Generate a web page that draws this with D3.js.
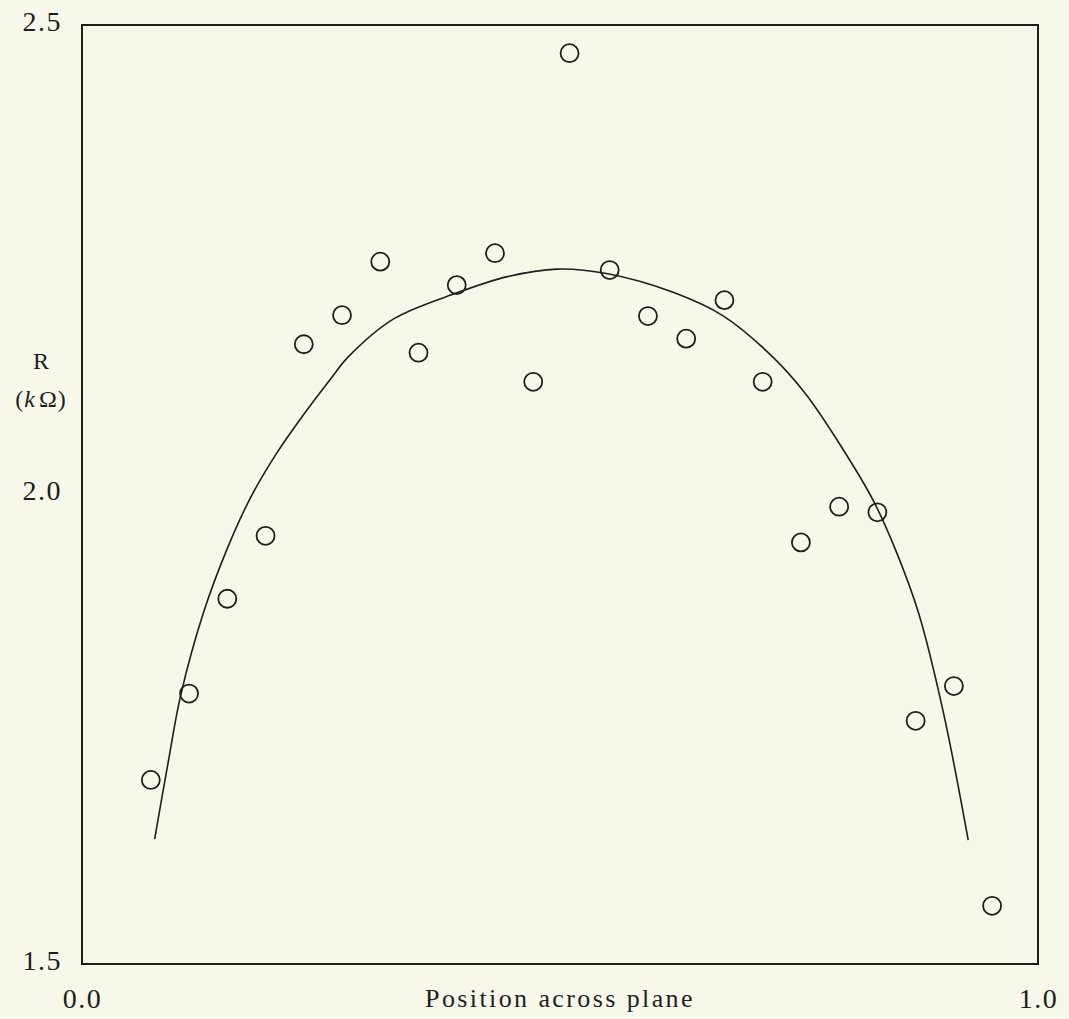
<!DOCTYPE html>
<html>
<head>
<meta charset="utf-8">
<script src="https://cdn.jsdelivr.net/npm/d3@7"></script>
<style>
  html, body { margin: 0; padding: 0; background: #f8f8ea; }
  svg { display: block; }
</style>
</head>
<body>
<svg id="chart" width="1069" height="1019"></svg>
<script>
// ---- data ----
const positions = [0.072, 0.112, 0.152, 0.192, 0.232, 0.272, 0.312, 0.352, 0.392, 0.432, 0.472, 0.510,
                   0.552, 0.592, 0.632, 0.672, 0.712, 0.752, 0.792, 0.832, 0.872, 0.912, 0.952];
const resistance = [1.696, 1.788, 1.889, 1.956, 2.160, 2.191, 2.248, 2.151, 2.223, 2.257, 2.120, 2.470,
                    2.239, 2.190, 2.166, 2.207, 2.120, 1.949, 1.987, 1.981, 1.759, 1.796, 1.562];
const fitPositions = [0.076, 0.090, 0.103, 0.127, 0.153, 0.177, 0.203, 0.226, 0.260, 0.278, 0.326, 0.393,
                      0.445, 0.497, 0.550, 0.619, 0.671, 0.723, 0.757, 0.793, 0.828, 0.851, 0.875, 0.901, 0.927];
const fitResistance = [1.633, 1.714, 1.785, 1.874, 1.945, 1.998, 2.043, 2.077, 2.123, 2.146, 2.187, 2.215,
                       2.232, 2.240, 2.235, 2.215, 2.190, 2.146, 2.107, 2.053, 1.993, 1.941, 1.874, 1.768, 1.632];
const xTicks = [0, 1];
const xTickLabels = ["0.0", "1.0"];
const yTicks = [1.5, 2.0, 2.5];
const yTickLabels = ["1.5", "2.0", "2.5"];
const xTitle = "Position across plane";

// ---- layout ----
const pLeft = 82, pRight = 1038, pTop = 25, pBottom = 964;
const ink = "#1e1e1a";
const serif = "'Liberation Serif', 'DejaVu Serif', serif";
const svg = d3.select("#chart");

const x = d3.scaleLinear().domain([0, 1]).range([pLeft, pRight]);
const y = d3.scaleLinear().domain([1.5, 2.5]).range([pBottom, pTop]);

// frame
svg.append("rect")
  .attr("x", pLeft).attr("y", pTop)
  .attr("width", pRight - pLeft).attr("height", pBottom - pTop)
  .attr("fill", "none").attr("stroke", ink).attr("stroke-width", 2);

// y axis labels
const yAxis = d3.axisLeft(y).tickValues(yTicks)
  .tickFormat((d, i) => yTickLabels[i]).tickSize(0).tickPadding(20);
const gy = svg.append("g").attr("transform", `translate(${pLeft},0)`).call(yAxis);
gy.select(".domain").remove();
gy.selectAll("text")
  .attr("dy", 5)
  .attr("fill", ink)
  .style("font-family", serif)
  .style("font-size", "28px")
  .style("letter-spacing", "1.5px");

// x axis labels
const xAxis = d3.axisBottom(x).tickValues(xTicks)
  .tickFormat((d, i) => xTickLabels[i]).tickSize(0);
const gx = svg.append("g").attr("transform", `translate(0,${pBottom})`).call(xAxis);
gx.select(".domain").remove();
gx.selectAll("text")
  .attr("y", 44).attr("dy", 0)
  .attr("fill", ink)
  .style("font-family", serif)
  .style("font-size", "28px")
  .style("letter-spacing", "1.5px");

// x title
svg.append("text")
  .attr("x", (pLeft + pRight) / 2).attr("y", 1007)
  .attr("text-anchor", "middle")
  .attr("fill", ink)
  .style("font-family", serif)
  .style("font-size", "26px")
  .style("letter-spacing", "2.4px")
  .text(xTitle);

// y title
const yt = svg.append("g")
  .style("font-family", serif)
  .style("font-size", "24px")
  .attr("fill", ink);
yt.append("text").attr("x", 41).attr("y", 369).attr("text-anchor", "middle").text("R");
const t2 = yt.append("text").attr("x", 41).attr("y", 407).attr("text-anchor", "middle")
  .style("letter-spacing", "1px");
t2.append("tspan").text("(");
t2.append("tspan").style("font-style", "italic").text("k");
t2.append("tspan").attr("dx", 3).text("Ω)");

// fit curve
const fitData = fitPositions.map((p, i) => [p, fitResistance[i]]);
svg.append("path")
  .datum(fitData)
  .attr("fill", "none")
  .attr("stroke", ink)
  .attr("stroke-width", 1.6)
  .attr("d", d3.line().x(d => x(d[0])).y(d => y(d[1])).curve(d3.curveCatmullRom.alpha(0.5)));

// data points
svg.append("g").selectAll("circle")
  .data(positions.map((p, i) => [p, resistance[i]]))
  .join("circle")
  .attr("cx", d => x(d[0]))
  .attr("cy", d => y(d[1]))
  .attr("r", 9)
  .attr("fill", "none")
  .attr("stroke", ink)
  .attr("stroke-width", 1.8);
</script>
</body>
</html>
